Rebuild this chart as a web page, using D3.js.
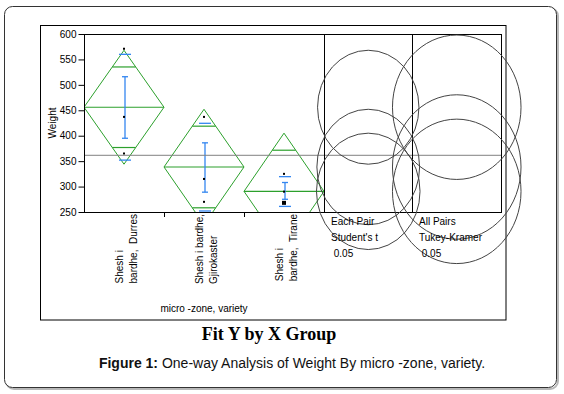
<!DOCTYPE html>
<html><head><meta charset="utf-8">
<script src="https://cdn.jsdelivr.net/npm/d3@7"></script>
<style>
html,body{margin:0;padding:0;background:#fff;}
text{font-family:"Liberation Sans",Arial,sans-serif;}
</style></head>
<body>
<svg id="c" width="564" height="394"></svg>
<script>
// ---- data ----
const groups = ["Shesh i bardhe, Durres", "Shesh i bardhe, Gjirokaster", "Shesh i bardhe, Tirane"];
const groupLabelLines = [["Shesh i", "bardhe,  Durres"], ["Shesh i bardhe,", "Gjirokaster"], ["Shesh i", "bardhe,  Tirane"]];
const means = [456, 338.5, 290.6];
const ciHalf = [112, 113.5, 114.4];          // 95% CI half-width (diamond / Student's t circle radius)
const tukeyRadius = [142, 142, 142];         // Tukey-Kramer circle radius
const seLo = [395, 289, 275];
const seHi = [516, 386, 308];
const sdLo = [352, 252, 261];
const sdHi = [560, 424.4, 319.5];
const points = [[571, 437, 365], [437, 315, 270], [325, 290, 268, 268]];
const grandMean = 361.5;
const yTicks = [250, 300, 350, 400, 450, 500, 550, 600];
const panelLabels = [["Each Pair", "Student's t", " 0.05"], ["All Pairs", "Tukey-Kramer", " 0.05"]];
const yDomain = [250, 600];

const svg = d3.select("#c");

// card
svg.append("rect").attr("x", 6).attr("y", 8).attr("width", 552).attr("height", 381).attr("rx", 8)
  .attr("fill", "none").attr("stroke", "#b8b8b8").attr("stroke-width", 2);
svg.append("rect").attr("x", 4.5).attr("y", 6.5).attr("width", 552).attr("height", 381).attr("rx", 8)
  .attr("fill", "#fff").attr("stroke", "#333").attr("stroke-width", 1);

// inner report frame
svg.append("rect").attr("x", 40.5).attr("y", 25.5).attr("width", 465.5).attr("height", 294.5)
  .attr("fill", "none").attr("stroke", "#000").attr("stroke-width", 1);

const plotL = 84, plotR = 324, plotT = 34, plotB = 212;
const panelR = 501, panelMid = 412;

const y = d3.scaleLinear().domain(yDomain).range([plotB, plotT]);
const x = d3.scaleBand().domain(groups).range([plotL, plotR]).padding(0);
const xPanel = d3.scaleBand().domain(["each", "all"]).range([plotR, panelR]);

// y axis
const yAxis = d3.axisLeft(y).tickValues(yTicks).tickSize(6).tickPadding(2).tickSizeOuter(0);
const ga = svg.append("g").attr("transform", `translate(${plotL + 0.5},0)`).call(yAxis);
ga.select(".domain").remove();
ga.selectAll("text").attr("font-size", 10).attr("fill", "#000").style("font-family", "Liberation Sans, Arial");
ga.selectAll("line").attr("stroke", "#000");

svg.append("text").attr("transform", `translate(56,${(plotT + plotB) / 2}) rotate(-90)`)
  .attr("text-anchor", "middle").attr("font-size", 10).text("Weight");

// clip for plot area
svg.append("clipPath").attr("id", "pc").append("rect")
  .attr("x", plotL).attr("y", plotT).attr("width", plotR - plotL).attr("height", plotB - plotT);

const pg = svg.append("g").attr("clip-path", "url(#pc)");

// grand mean line
svg.append("line").attr("x1", plotL).attr("x2", panelR).attr("y1", y(grandMean)).attr("y2", y(grandMean))
  .attr("stroke", "#808080").attr("stroke-width", 1);

const green = "#2ca02c", blue = "#3386f0";
groups.forEach((g, i) => {
  const x0 = x(g), x1 = x(g) + x.bandwidth(), cx = x0 + x.bandwidth() / 2;
  const m = means[i], h = ciHalf[i];
  pg.append("path").attr("d", `M${x0},${y(m)}L${cx},${y(m + h)}L${x1},${y(m)}L${cx},${y(m - h)}Z`)
    .attr("fill", "none").attr("stroke", green).attr("stroke-width", 1);
  pg.append("line").attr("x1", x0).attr("x2", x1).attr("y1", y(m)).attr("y2", y(m))
    .attr("stroke", green).attr("stroke-width", 1.2);
  const k = 1 / Math.SQRT2;
  const hw = (x.bandwidth() / 2) * (1 - k);
  [m + h * k, m - h * k].forEach(v => {
    pg.append("line").attr("x1", cx - hw).attr("x2", cx + hw).attr("y1", y(v)).attr("y2", y(v))
      .attr("stroke", green).attr("stroke-width", 1.2);
  });
  // blue error bar
  const bx = cx + 1;
  pg.append("line").attr("x1", bx).attr("x2", bx).attr("y1", y(seLo[i])).attr("y2", y(seHi[i]))
    .attr("stroke", blue).attr("stroke-width", 1.3);
  [seLo[i], seHi[i]].forEach(v => pg.append("line").attr("x1", bx - 3).attr("x2", bx + 3)
    .attr("y1", y(v)).attr("y2", y(v)).attr("stroke", blue).attr("stroke-width", 1.3));
  [sdLo[i], sdHi[i]].forEach(v => pg.append("line").attr("x1", bx - 6).attr("x2", bx + 6)
    .attr("y1", y(v)).attr("y2", y(v)).attr("stroke", blue).attr("stroke-width", 1.3));
  // points
  const counts = d3.rollup(points[i], v => v.length, d => d);
  counts.forEach((n, v) => {
    const s = n > 1 ? 4 : 2;
    pg.append("rect").attr("x", cx - s / 2).attr("y", y(v) - s / 2).attr("width", s).attr("height", s).attr("fill", "#000");
  });
});

// plot frames
svg.append("rect").attr("x", plotL + 0.5).attr("y", plotT + 0.5).attr("width", panelR - plotL).attr("height", plotB - plotT)
  .attr("fill", "none").attr("stroke", "#000").attr("stroke-width", 1);
[plotR, panelMid].forEach(v => svg.append("line").attr("x1", v + 0.5).attr("x2", v + 0.5)
  .attr("y1", plotT).attr("y2", plotB).attr("stroke", "#000"));

// x ticks at group boundaries
groups.slice(1).forEach(g => svg.append("line").attr("x1", x(g) + 0.5).attr("x2", x(g) + 0.5)
  .attr("y1", plotB).attr("y2", plotB + 5).attr("stroke", "#000"));

// comparison circles
const aspect = 0.89;
const radii = { each: ciHalf, all: tukeyRadius };
["each", "all"].forEach(p => {
  const cx = xPanel(p) + xPanel.bandwidth() / 2;
  means.forEach((m, i) => {
    const ry = y(m - radii[p][i]) - y(m);
    svg.append("ellipse").attr("cx", cx).attr("cy", y(m)).attr("rx", ry * aspect).attr("ry", ry)
      .attr("fill", "none").attr("stroke", "#444").attr("stroke-width", 1);
  });
});

// panel labels
panelLabels.forEach((lines, j) => {
  const px = (j === 0 ? plotR : panelMid) + 7;
  lines.forEach((t, k) => svg.append("text").attr("x", px).attr("y", 225 + k * 16)
    .attr("font-size", 10).style("white-space", "pre").text(t));
});

// category labels
groups.forEach((g, i) => {
  const cx = x(g) + x.bandwidth() / 2;
  const lines = groupLabelLines[i];
  const gg = svg.append("g");
  const ts = lines.map((t, k) => gg.append("text").attr("font-size", 10).style("white-space", "pre").text(t));
  const maxLen = d3.max(ts, t => t.node().getComputedTextLength());
  ts.forEach((t, k) => {
    const bx = cx - 1.5 + k * 14;
    const by = 214 + maxLen;
    t.attr("transform", `translate(${bx},${by}) rotate(-90)`);
  });
});

svg.append("text").attr("x", (plotL + plotR) / 2).attr("y", 312).attr("text-anchor", "middle")
  .attr("font-size", 10).text("micro -zone, variety");

// captions
svg.append("text").attr("x", 269).attr("y", 340).attr("text-anchor", "middle")
  .style("font-family", "Liberation Serif, Times New Roman, serif").attr("font-weight", "bold").attr("font-size", 18)
  .text("Fit Y by X Group");
const cap = svg.append("text").attr("x", 292).attr("y", 368).attr("text-anchor", "middle").attr("font-size", 14)
  .attr("fill", "#111");
cap.append("tspan").attr("font-weight", "bold").text("Figure 1:");
cap.append("tspan").text(" One-way Analysis of Weight By micro -zone, variety.");
</script>
</body></html>
